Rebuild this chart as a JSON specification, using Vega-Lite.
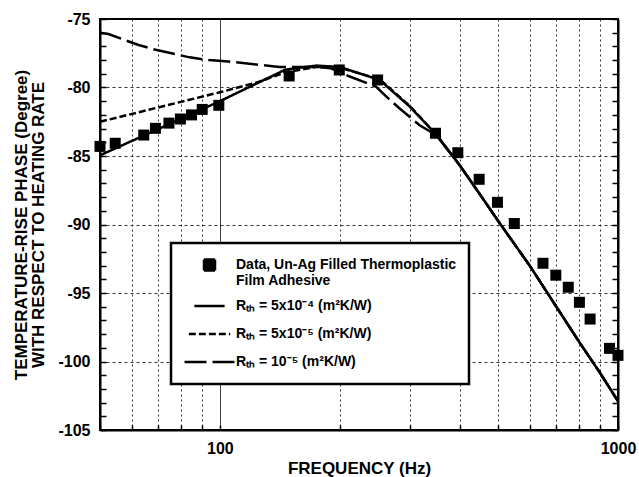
{
  "$schema": "https://vega.github.io/schema/vega-lite/v6.json",
  "width": 518,
  "height": 411,
  "autosize": {"type": "none"},
  "padding": {"left": 100, "top": 19, "right": 21, "bottom": 47},
  "background": "white",
  "config": {
    "view": {"stroke": "black", "strokeWidth": 2},
    "font": "Liberation Sans",
    "legend": {
      "orient": "none",
      "legendX": 71,
      "legendY": 224,
      "strokeColor": "black",
      "strokeWidth": 2.5,
      "fillColor": "white",
      "padding": 12,
      "labelFont": "Liberation Sans",
      "labelFontSize": 14,
      "labelFontWeight": "bold",
      "labelColor": "black",
      "labelLimit": 400,
      "labelOffset": 0,
      "rowPadding": 8,
      "clipHeight": 20,
      "symbolStrokeWidth": 2.5,
      "symbolStrokeColor": "black",
      "symbolFillColor": "black",
      "symbolOpacity": 1
    }
  },
  "datasets": {
    "curves": [
      {"f": 50, "v": -84.95, "series": "r1"},
      {"f": 100, "v": -81.0, "series": "r1"},
      {"f": 146, "v": -78.7, "series": "r1"},
      {"f": 175, "v": -78.4, "series": "r1"},
      {"f": 200, "v": -78.5, "series": "r1"},
      {"f": 252, "v": -79.45, "series": "r1"},
      {"f": 300, "v": -81.4, "series": "r1"},
      {"f": 350, "v": -83.45, "series": "r1"},
      {"f": 400, "v": -85.66, "series": "r1"},
      {"f": 450, "v": -87.8, "series": "r1"},
      {"f": 500, "v": -89.74, "series": "r1"},
      {"f": 600, "v": -93.0, "series": "r1"},
      {"f": 700, "v": -96.0, "series": "r1"},
      {"f": 800, "v": -98.6, "series": "r1"},
      {"f": 900, "v": -100.8, "series": "r1"},
      {"f": 1000, "v": -102.9, "series": "r1"},
      {"f": 50, "v": -82.5, "series": "r2"},
      {"f": 100, "v": -80.35, "series": "r2"},
      {"f": 125, "v": -79.6, "series": "r2"},
      {"f": 146, "v": -78.9, "series": "r2"},
      {"f": 175, "v": -78.5, "series": "r2"},
      {"f": 200, "v": -78.55, "series": "r2"},
      {"f": 252, "v": -79.4, "series": "r2"},
      {"f": 300, "v": -81.35, "series": "r2"},
      {"f": 350, "v": -83.45, "series": "r2"},
      {"f": 400, "v": -85.66, "series": "r2"},
      {"f": 450, "v": -87.8, "series": "r2"},
      {"f": 500, "v": -89.74, "series": "r2"},
      {"f": 600, "v": -93.0, "series": "r2"},
      {"f": 700, "v": -96.0, "series": "r2"},
      {"f": 800, "v": -98.6, "series": "r2"},
      {"f": 900, "v": -100.8, "series": "r2"},
      {"f": 1000, "v": -102.9, "series": "r2"},
      {"f": 50, "v": -76.0, "series": "r3"},
      {"f": 52.5, "v": -76.1, "series": "r3"},
      {"f": 62.5, "v": -76.9, "series": "r3"},
      {"f": 69, "v": -77.25, "series": "r3"},
      {"f": 84, "v": -77.8, "series": "r3"},
      {"f": 94, "v": -78.0, "series": "r3"},
      {"f": 105, "v": -78.1, "series": "r3"},
      {"f": 141, "v": -78.5, "series": "r3"},
      {"f": 175, "v": -78.5, "series": "r3"},
      {"f": 190, "v": -78.6, "series": "r3"},
      {"f": 212, "v": -79.2, "series": "r3"},
      {"f": 247, "v": -79.95, "series": "r3"},
      {"f": 262, "v": -80.67, "series": "r3"},
      {"f": 282, "v": -81.5, "series": "r3"},
      {"f": 317, "v": -82.74, "series": "r3"},
      {"f": 350, "v": -83.5, "series": "r3"},
      {"f": 400, "v": -85.66, "series": "r3"},
      {"f": 450, "v": -87.8, "series": "r3"},
      {"f": 500, "v": -89.74, "series": "r3"},
      {"f": 600, "v": -93.0, "series": "r3"},
      {"f": 700, "v": -96.0, "series": "r3"},
      {"f": 800, "v": -98.6, "series": "r3"},
      {"f": 900, "v": -100.8, "series": "r3"},
      {"f": 1000, "v": -102.9, "series": "r3"}
    ],
    "points": [
      {"f": 50, "v": -84.3, "series": "data"},
      {"f": 54.6, "v": -84.07, "series": "data"},
      {"f": 64.4, "v": -83.47, "series": "data"},
      {"f": 68.9, "v": -82.98, "series": "data"},
      {"f": 74.5, "v": -82.6, "series": "data"},
      {"f": 79.6, "v": -82.3, "series": "data"},
      {"f": 84.9, "v": -82.0, "series": "data"},
      {"f": 90.3, "v": -81.6, "series": "data"},
      {"f": 99.4, "v": -81.3, "series": "data"},
      {"f": 149.3, "v": -79.16, "series": "data"},
      {"f": 199.5, "v": -78.72, "series": "data"},
      {"f": 249, "v": -79.45, "series": "data"},
      {"f": 348, "v": -83.34, "series": "data"},
      {"f": 396, "v": -84.76, "series": "data"},
      {"f": 448, "v": -86.7, "series": "data"},
      {"f": 498, "v": -88.38, "series": "data"},
      {"f": 549, "v": -89.93, "series": "data"},
      {"f": 648, "v": -92.83, "series": "data"},
      {"f": 698, "v": -93.7, "series": "data"},
      {"f": 750, "v": -94.58, "series": "data"},
      {"f": 800, "v": -95.68, "series": "data"},
      {"f": 851, "v": -96.9, "series": "data"},
      {"f": 952, "v": -99.04, "series": "data"},
      {"f": 1000, "v": -99.55, "series": "data"}
    ]
  },
  "resolve": {"scale": {"y": "independent"}, "axis": {"y": "independent"}},
  "layer": [
    {
      "data": {"name": "curves"},
      "mark": {"type": "line", "color": "black", "strokeWidth": 2.5},
      "encoding": {
        "x": {
          "field": "f",
          "type": "quantitative",
          "scale": {"type": "log", "domain": [50, 1000], "nice": false},
          "axis": {
            "values": [50, 60, 70, 80, 90, 100, 200, 300, 400, 500, 600, 700, 800, 900, 1000],
            "labelExpr": "datum.value === 100 || datum.value === 1000 ? toString(datum.value) : ''",
            "labelFlush": false,
            "labelFont": "Liberation Sans",
            "labelFontWeight": "bold",
            "labelFontSize": 16,
            "labelColor": "black",
            "grid": true,
            "gridColor": {"condition": {"test": "datum.value === 100", "value": "black"}, "value": "#333333"},
            "gridDash": {"condition": {"test": "datum.value === 100", "value": [1, 0]}, "value": [2, 3]},
            "gridOpacity": {"condition": {"test": "datum.value === 50 || datum.value === 1000", "value": 0}, "value": 1},
            "gridWidth": 1,
            "tickSize": -5,
            "tickWidth": 1.5,
            "tickColor": "black",
            "labelPadding": 15,
            "domainColor": "black",
            "domainWidth": 2,
            "title": "FREQUENCY (Hz)",
            "titleFont": "Liberation Sans",
            "titleFontWeight": "bold",
            "titleFontSize": 17,
            "titleColor": "black",
            "titlePadding": 4
          }
        },
        "y": {
          "field": "v",
          "type": "quantitative",
          "scale": {"domain": [-105, -75], "nice": false, "zero": false},
          "axis": {
            "orient": "left",
            "tickCount": 30,
            "labelExpr": "datum.value % 5 === 0 ? toString(datum.value) : ''",
            "labelFont": "Liberation Sans",
            "labelFontWeight": "bold",
            "labelFontSize": 16,
            "labelColor": "black",
            "grid": true,
            "gridColor": "#333333",
            "gridDash": [3, 3],
            "gridWidth": 1,
            "gridOpacity": {"condition": {"test": "datum.value % 5 === 0 && datum.value > -105 && datum.value < -75", "value": 1}, "value": 0},
            "tickSize": -6,
            "tickWidth": 1.5,
            "tickColor": "black",
            "labelPadding": 16,
            "domainColor": "black",
            "domainWidth": 2,
            "title": ["TEMPERATURE-RISE PHASE (Degree)", "WITH RESPECT TO HEATING RATE"],
            "titleFont": "Liberation Sans",
            "titleFontWeight": "bold",
            "titleFontSize": 17,
            "titleColor": "black",
            "titleLineHeight": 17,
            "titlePadding": 10
          }
        },
        "strokeDash": {
          "field": "series",
          "type": "nominal",
          "scale": {"domain": ["data", "r1", "r2", "r3"], "range": [[1, 0], [1, 0], [7, 3], [22, 6]]},
          "legend": {
            "title": null,
            "labelExpr": "datum.value === 'data' ? ['Data, Un-Ag Filled Thermoplastic', 'Film Adhesive'] : datum.value === 'r1' ? 'Rₜₕ = 5x10⁻⁴ (m²K/W)' : datum.value === 'r2' ? 'Rₜₕ = 5x10⁻⁵ (m²K/W)' : 'Rₜₕ = 10⁻⁵ (m²K/W)'",
            "encode": {"symbols": {"update": {"stroke": {"value": "black"}, "strokeWidth": {"value": 2.5}, "fill": {"value": "black"}, "opacity": {"value": 1}}}}
          }
        }
      }
    },
    {
      "data": {"name": "points"},
      "mark": {"type": "point", "filled": true, "color": "black", "opacity": 1},
      "encoding": {
        "x": {"field": "f", "type": "quantitative"},
        "y": {
          "field": "v",
          "type": "quantitative",
          "scale": {"domain": [-105, -75], "nice": false, "zero": false},
          "axis": {
            "orient": "right",
            "tickCount": 30,
            "tickSize": -6,
            "tickWidth": 1.5,
            "tickColor": "black",
            "domainColor": "black",
            "domainWidth": 2,
            "labels": false,
            "grid": false,
            "title": null
          }
        },
        "shape": {
          "field": "series",
          "type": "nominal",
          "scale": {"domain": ["data", "r1", "r2", "r3"], "range": ["square", "stroke", "stroke", "stroke"]},
          "legend": {
            "title": null,
            "labelExpr": "datum.value === 'data' ? ['Data, Un-Ag Filled Thermoplastic', 'Film Adhesive'] : datum.value === 'r1' ? 'Rₜₕ = 5x10⁻⁴ (m²K/W)' : datum.value === 'r2' ? 'Rₜₕ = 5x10⁻⁵ (m²K/W)' : 'Rₜₕ = 10⁻⁵ (m²K/W)'",
            "encode": {"symbols": {"update": {"stroke": {"value": "black"}, "strokeWidth": {"value": 2.5}, "fill": {"value": "black"}, "opacity": {"value": 1}}}}
          }
        },
        "size": {
          "field": "series",
          "type": "ordinal",
          "scale": {"domain": ["data", "r1", "r2", "r3"], "range": [121, 2500, 2500, 2500]},
          "legend": {
            "title": null,
            "labelExpr": "datum.value === 'data' ? ['Data, Un-Ag Filled Thermoplastic', 'Film Adhesive'] : datum.value === 'r1' ? 'Rₜₕ = 5x10⁻⁴ (m²K/W)' : datum.value === 'r2' ? 'Rₜₕ = 5x10⁻⁵ (m²K/W)' : 'Rₜₕ = 10⁻⁵ (m²K/W)'",
            "encode": {"symbols": {"update": {"stroke": {"value": "black"}, "strokeWidth": {"value": 2.5}, "fill": {"value": "black"}, "opacity": {"value": 1}}}}
          }
        }
      }
    }
  ]
}
